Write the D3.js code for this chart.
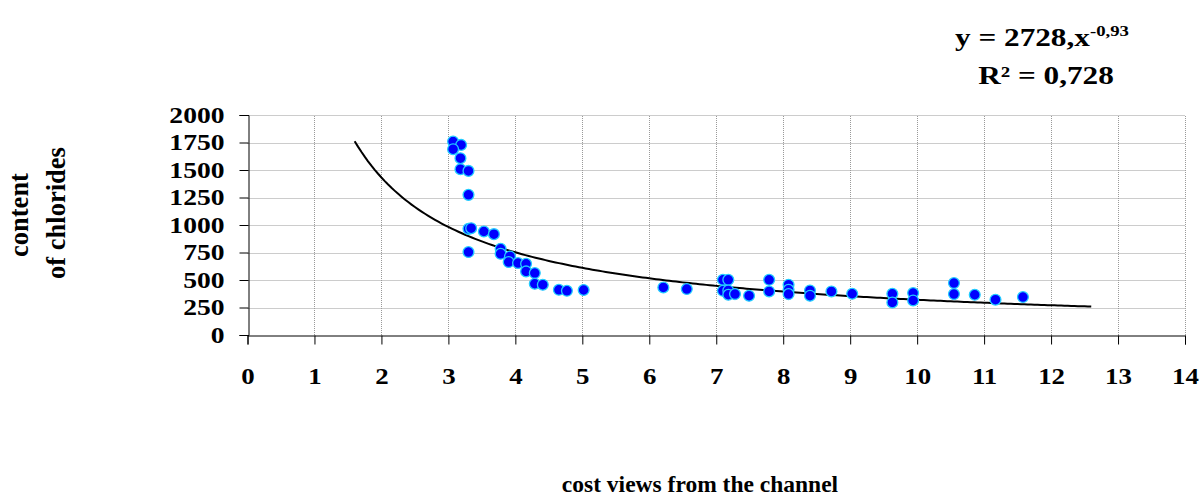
<!DOCTYPE html>
<head>
  <meta charset="utf-8">
  <script src="https://d3js.org/d3.v7.min.js"></script>
  <style>
    body { margin:0; background:#fff; }
    text { font-family: "Liberation Serif", "Times New Roman", serif; font-weight: bold; fill:#000; }
  </style>
</head>
<body>
<script>
// measured points: cost views (x) vs chloride content (y)
const costViews = [3.07, 3.19, 3.07, 3.18, 3.18, 3.30, 3.30, 3.30, 3.34, 3.53, 3.68, 3.30,
  3.78, 3.78, 3.92, 3.90, 4.04, 4.16, 4.16, 4.29, 4.29, 4.41, 4.65, 4.77, 5.02,
  6.21, 6.56, 7.10, 7.18, 7.10, 7.18, 7.18, 7.28, 7.49, 7.79, 7.79, 8.08, 8.08, 8.08,
  8.40, 8.40, 8.72, 9.03, 9.63, 9.63, 9.94, 9.94, 10.55, 10.55, 10.86, 11.17, 11.58];
const chlorides = [1758, 1728, 1689, 1607, 1507, 1492, 1274, 965, 971, 941, 917, 754,
  784, 738, 714, 663, 654, 647, 578, 563, 466, 457, 411, 402, 409,
  432, 418, 502, 502, 402, 405, 366, 372, 357, 502, 396, 457, 411, 372,
  405, 357, 396, 375, 375, 296, 381, 314, 472, 372, 366, 321, 345];
const xTicks = d3.range(0, 15);
const yTicks = [0, 250, 500, 750, 1000, 1250, 1500, 1750, 2000];
// power trend line y = 2728 * x^-0.93, drawn from x=1.6 to 12.6
const trendA = 2728, trendB = -0.93, trendFrom = 1.6, trendTo = 12.6;

const W = 1202, H = 497;
const stretch = 1.25; // the source font renders wide
const svg = d3.select('body').append('svg').attr('width', W).attr('height', H);

const x = d3.scaleLinear().domain([0, 14]).range([247.5, 1185]);
const y = d3.scaleLinear().domain([0, 2000]).range([335, 115]);

// grid
const grid = svg.append('g').attr('stroke', '#999').attr('stroke-dasharray', '1,1').attr('stroke-width', 1);
grid.selectAll('line.h').data(yTicks.filter(d => d > 0)).enter().append('line')
  .attr('x1', x(0)).attr('x2', x(14)).attr('y1', d => Math.round(y(d)) + 0.5).attr('y2', d => Math.round(y(d)) + 0.5);
grid.selectAll('line.v').data(xTicks.filter(d => d > 0)).enter().append('line')
  .attr('y1', y(0)).attr('y2', y(2000)).attr('x1', d => Math.round(x(d)) + 0.5).attr('x2', d => Math.round(x(d)) + 0.5);

// axes
const xAxis = svg.append('g').attr('transform', 'translate(0,' + (Math.round(y(0)) + 0.5) + ')')
  .call(d3.axisBottom(x).tickValues(xTicks).tickFormat(d3.format('d')).tickSize(9).tickPadding(22));
const yAxis = svg.append('g').attr('transform', 'translate(' + (Math.round(x(0)) + 0.5) + ',0)')
  .call(d3.axisLeft(y).tickValues(yTicks).tickFormat(d3.format('d')).tickSize(9).tickPadding(15));
[xAxis, yAxis].forEach(a => {
  a.select('.domain').attr('stroke', '#000');
  a.selectAll('.tick line').attr('stroke', '#000');
  a.selectAll('text').attr('font-family', null);
});
xAxis.selectAll('text').style('font-size', '24px').attr('transform', 'scale(1.12,1)');
yAxis.selectAll('text').style('font-size', '23px').attr('transform', 'scale(1.2,1)').attr('x', -24 / 1.2);

// trend line
const trend = d3.range(trendFrom, trendTo + 0.001, 0.05).map(v => [v, trendA * Math.pow(v, trendB)]);
svg.append('path').datum(trend)
  .attr('fill', 'none').attr('stroke', '#000').attr('stroke-width', 2)
  .attr('d', d3.line().x(d => x(d[0])).y(d => y(d[1])));

// points
svg.append('g').selectAll('circle').data(costViews).enter().append('circle')
  .attr('cx', d => x(d)).attr('cy', (d, i) => y(chlorides[i])).attr('r', 5.4)
  .attr('fill', '#0000ff').attr('stroke', '#22ccff').attr('stroke-width', 1.3);

// equation
const eq = svg.append('text').attr('transform', 'translate(955,46) scale(' + stretch + ',1)').style('font-size', '25px');
eq.append('tspan').text('y = 2728,x');
eq.append('tspan').attr('dy', -10).style('font-size', '15px').text('-0,93');
svg.append('text').attr('transform', 'translate(1046,84) scale(' + stretch + ',1)').attr('text-anchor', 'middle')
  .style('font-size', '25px').text('R² = 0,728');

// axis titles
svg.append('text').attr('transform', 'translate(28,215) rotate(-90)')
  .attr('text-anchor', 'middle').style('font-size', '26.5px').text('content');
svg.append('text').attr('transform', 'translate(65,213) rotate(-90)')
  .attr('text-anchor', 'middle').style('font-size', '26.5px').text('of chlorides');
svg.append('text').attr('x', 700).attr('y', 492).attr('text-anchor', 'middle')
  .style('font-size', '23.5px').text('cost views from the channel');
</script>
</body>
